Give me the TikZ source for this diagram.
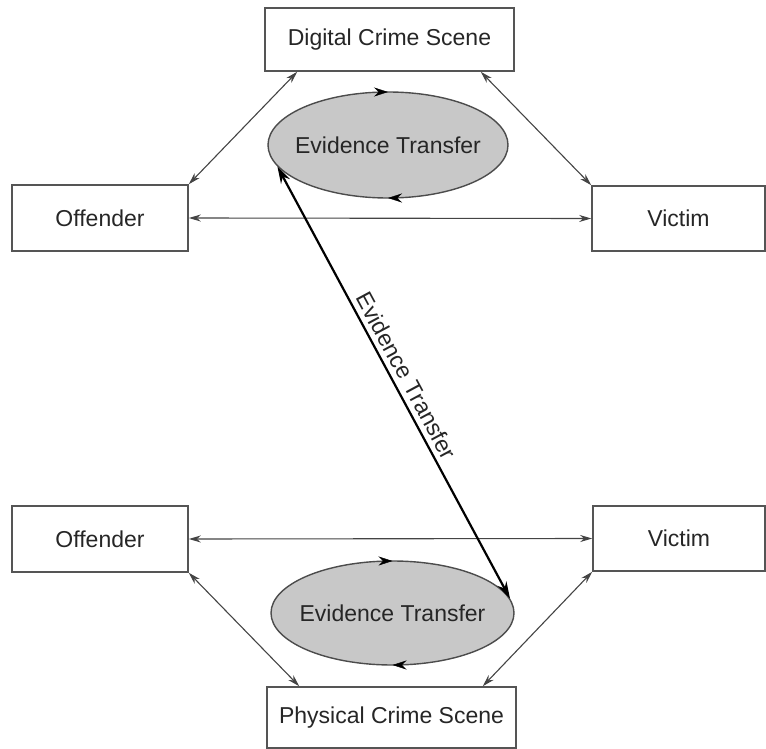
\documentclass[tikz,border=0pt]{standalone}
\usepackage{fontspec}
\setmainfont{Liberation Sans}
\usetikzlibrary{arrows.meta,shapes.geometric,calc,decorations.markings}
\definecolor{boxline}{HTML}{555555}
\definecolor{ellfill}{HTML}{C8C8C8}
\definecolor{conn}{HTML}{444444}
\tikzset{
  lbl/.style={font=\fontsize{23}{27}\selectfont,text=black!85},
  box/.style={draw=boxline,line width=1.6pt,fill=white,rectangle,inner sep=0pt,lbl},
  ell/.style={draw=black!70,line width=1.4pt,fill=ellfill,ellipse,inner sep=0pt},
  link/.style={draw=conn,line width=1.1pt,{Stealth[length=12pt,width=7pt]}-{Stealth[length=12pt,width=7pt]}},
  bigarrow/.style={draw=black,line width=2.2pt,{Stealth[length=17pt,width=10pt]}-{Stealth[length=17pt,width=10pt]}},
  cyc/.style={decoration={markings,
    mark=at position 0.25 with {\arrow{Stealth[length=14pt,width=9pt]}},
    mark=at position 0.75 with {\arrow{Stealth[length=14pt,width=9pt]}}},postaction={decorate}}
}
\begin{document}
\begin{tikzpicture}[x=1pt,y=-1pt]
\useasboundingbox (0,0) rectangle (766,749);
% boxes
\node[box,minimum width=249pt,minimum height=63pt] (dig) at (389.5,39.5) {Digital Crime Scene};
\node[box,minimum width=176pt,minimum height=66pt] (offT) at (100,218) {Offender};
\node[box,minimum width=173pt,minimum height=65pt] (vicT) at (678.5,218.5) {Victim};
\node[box,minimum width=176pt,minimum height=66pt] (offB) at (100,539) {Offender};
\node[box,minimum width=172pt,minimum height=65pt] (vicB) at (679,538.5) {Victim};
\node[box,minimum width=249pt,minimum height=61pt] (phys) at (391.5,717.5) {Physical Crime Scene};
% ellipses
\node[ell,minimum width=240pt,minimum height=106pt] (e1) at (388,145) {};
\node[lbl] (e1t) at (e1.center) {Evidence Transfer};
\node[ell,minimum width=243pt,minimum height=104pt] (e2) at (392.5,613) {};
\node[lbl] (e2t) at (e2.center) {Evidence Transfer};
\path[cyc] (388,145) ellipse [x radius=120, y radius=53];
\path[cyc] (392.5,613) ellipse [x radius=121.5, y radius=52];
% connectors
\draw[link] ($(dig.south west)+(33,0)$) -- (offT.north east);
\draw[link] ($(dig.south east)+(-34,0)$) -- (vicT.north west);
\draw[link] (offT.east) -- (vicT.west);
\draw[link] (offB.east) -- (vicB.west);
\draw[link] (offB.south east) -- ($(phys.north west)+(33,0)$);
\draw[link] (vicB.south west) -- ($(phys.north east)+(-34,0)$);
% big evidence transfer arrow
\draw[bigarrow] (e1.191) -- node[midway,sloped,above,lbl,inner sep=5pt] {Evidence Transfer} (e2.7);
\end{tikzpicture}
\end{document}
